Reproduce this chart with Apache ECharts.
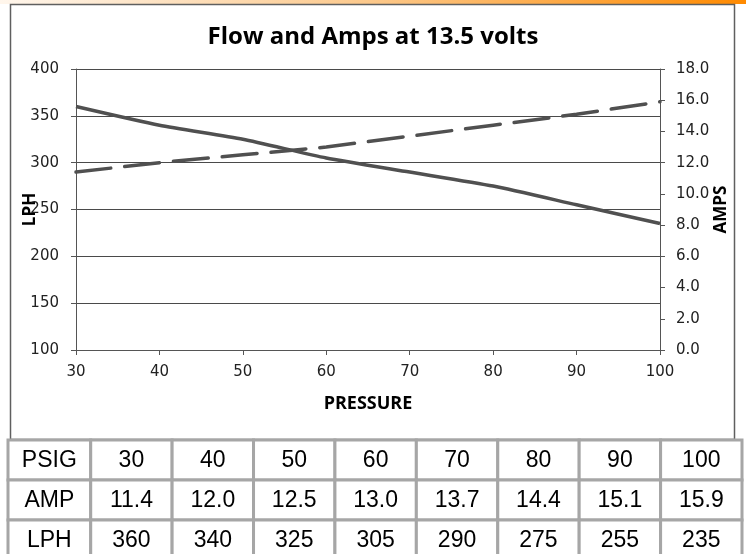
<!DOCTYPE html>
<html><head><meta charset="utf-8">
<script src="https://cdn.jsdelivr.net/npm/echarts@6/dist/echarts.min.js"></script>
<style>html,body{margin:0;padding:0;background:#fff}#c{width:746px;height:554px}</style>
</head><body><div id="c"></div>
<script>
const titleText = "Flow and Amps at 13.5 volts";
const pressure = [30, 40, 50, 60, 70, 80, 90, 100];
const amps = [11.4, 12.0, 12.5, 13.0, 13.7, 14.4, 15.1, 15.9];
const lph = [360, 340, 325, 305, 290, 275, 255, 235];
const rowLabels = ["PSIG", "AMP", "LPH"];
const xName = "PRESSURE", yLeftName = "LPH", yRightName = "AMPS";

const W = 746, H = 554;
const chart = echarts.init(document.getElementById('c'), null, {renderer: 'canvas'});

// table graphics
const tX0 = 8, tX1 = 742, tY0 = 440, rowH = 40, firstW = 82.7;
const nCols = pressure.length;
const colW = (tX1 - tX0 - firstW) / nCols;
const tableRows = [
  [rowLabels[0]].concat(pressure.map(String)),
  [rowLabels[1]].concat(amps.map(v => v.toFixed(1))),
  [rowLabels[2]].concat(lph.map(String))
];
const g = [];
g.push({type:'rect', shape:{x:0,y:0,width:W,height:4}, style:{fill:new echarts.graphic.LinearGradient(0,0,1,0,[{offset:0,color:'#fff6ec'},{offset:0.5,color:'#fcc88a'},{offset:1,color:'#ff8a00'}])}, silent:true});
g.push({type:'rect', shape:{x:10.5,y:4.5,width:724,height:435}, style:{fill:'none', stroke:'#5f5f5f', lineWidth:1.5}, silent:true});
const colEdges = [tX0, tX0 + firstW];
for (let i = 1; i <= nCols; i++) colEdges.push(tX0 + firstW + colW * i);
for (let r = 0; r < tableRows.length; r++) {
  for (let c = 0; c < tableRows[r].length; c++) {
    const x0 = colEdges[c], x1 = colEdges[c+1];
    g.push({type:'rect', shape:{x:x0, y:tY0 + r*rowH, width:x1-x0, height:rowH}, style:{fill:'#fff', stroke:'#a6a6a6', lineWidth:3}, silent:true});
    g.push({type:'text', x:(x0+x1)/2, y:tY0 + r*rowH + rowH/2 + 1, style:{text:tableRows[r][c], fill:'#000', font:'23px "Liberation Sans", Arial, sans-serif', align:'center', verticalAlign:'middle'}, silent:true});
  }
}

const labelFont = {fontFamily:'"DejaVu Sans", sans-serif', fontSize:15, color:'#222'};
const nameFont = {fontFamily:'"Open Sans", sans-serif', fontWeight:'bold', fontSize:17, color:'#000'};

chart.setOption({
  animation:false,
  backgroundColor:'#fff',
  title:{text:titleText, left:'center', top:20, textStyle:{fontFamily:'"Open Sans", sans-serif', fontWeight:'bold', fontSize:24, color:'#000'}},
  grid:{left:76, right:86, top:69, bottom:204, containLabel:false},
  xAxis:{type:'value', min:30, max:100, interval:10, name:xName, nameLocation:'middle', nameGap:45, nameMoveOverlap:false, nameTextStyle:Object.assign({}, nameFont, {fontSize:18}),
    axisLine:{show:true, lineStyle:{color:'#555', width:1}}, axisTick:{show:true, length:5, inside:false, lineStyle:{color:'#555'}},
    axisLabel:Object.assign({margin:15}, labelFont), splitLine:{show:false}},
  yAxis:[
    {type:'value', min:100, max:400, interval:50, name:yLeftName, nameLocation:'middle', nameGap:37, nameMoveOverlap:false, nameRotate:90, nameTextStyle:nameFont,
      axisLine:{show:true, lineStyle:{color:'#555', width:1}}, axisTick:{show:true, length:5, lineStyle:{color:'#555'}},
      axisLabel:Object.assign({margin:17}, labelFont), splitLine:{show:true, lineStyle:{color:'#4a4a4a', width:1}}},
    {type:'value', min:0, max:18, interval:2, position:'right', name:yRightName, nameLocation:'middle', nameGap:53, nameMoveOverlap:false, nameRotate:90, nameTextStyle:nameFont,
      axisLine:{show:true, lineStyle:{color:'#555', width:1}}, axisTick:{show:true, length:5, lineStyle:{color:'#555'}},
      axisLabel:Object.assign({margin:16, formatter:v => v.toFixed(1)}, labelFont), splitLine:{show:false}}
  ],
  series:[
    {name:'LPH', type:'line', yAxisIndex:0, symbol:'none', smooth:0.2, data:pressure.map((p,i)=>[p,lph[i]]),
      lineStyle:{color:'#505050', width:3.5}},
    {name:'AMPS', type:'line', yAxisIndex:1, symbol:'none', data:pressure.map((p,i)=>[p,amps[i]]),
      lineStyle:{color:'#505050', width:3.5, type:[35,14], cap:'round'}}
  ],
  graphic:g
});
</script></body></html>
